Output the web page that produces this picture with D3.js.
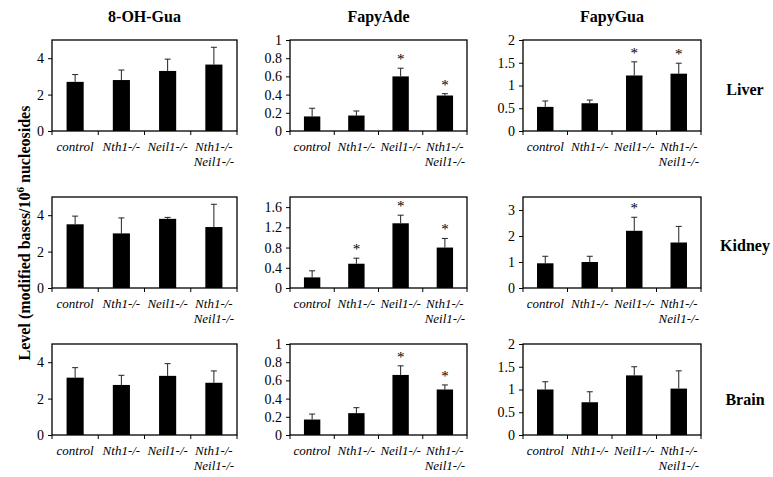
<!DOCTYPE html>
<html>
<head>
<meta charset="utf-8">
<script src="https://cdn.jsdelivr.net/npm/d3@7"></script>
<style>
  body { margin: 0; background: #fff; }
</style>
</head>
<body>
<div id="chart"></div>
<script>
// categories and panel names
let categories = ["control", "Nth1-/-", "Neil1-/-", "Nth1-/-\nNeil1-/-"];
let analytes = ["8-OH-Gua", "FapyAde", "FapyGua"];
let tissues = ["Liver", "Kidney", "Brain"];

// means (rows = tissue, cols = analyte)
let liverMeans  = [[2.7, 2.8, 3.3, 3.65], [0.16, 0.17, 0.60, 0.39], [0.53, 0.61, 1.22, 1.26]];
let kidneyMeans = [[3.5, 3.0, 3.8, 3.35], [0.21, 0.48, 1.28, 0.80], [0.95, 1.0, 2.2, 1.75]];
let brainMeans  = [[3.15, 2.75, 3.25, 2.87], [0.17, 0.24, 0.66, 0.50], [1.0, 0.72, 1.31, 1.02]];

// standard deviations (top of error bar minus mean)
let liverSD  = [[0.4, 0.55, 0.65, 0.95], [0.09, 0.05, 0.09, 0.02], [0.13, 0.07, 0.30, 0.23]];
let kidneySD = [[0.45, 0.85, 0.08, 1.25], [0.13, 0.11, 0.16, 0.18], [0.27, 0.22, 0.52, 0.62]];
let brainSD  = [[0.55, 0.53, 0.67, 0.65], [0.06, 0.06, 0.10, 0.05], [0.17, 0.23, 0.19, 0.39]];

// significance markers
let liverSig  = [[0, 0, 0, 0], [0, 0, 1, 1], [0, 0, 1, 1]];
let kidneySig = [[0, 0, 0, 0], [0, 1, 1, 1], [0, 0, 1, 0]];
let brainSig  = [[0, 0, 0, 0], [0, 0, 1, 1], [0, 0, 0, 0]];

// y axis maxima and ticks
let yMax = [[5, 1, 2], [5, 1.8, 3.5], [5, 1, 2]];
let yTicks = [
  [[0, 2, 4], [0, 0.2, 0.4, 0.6, 0.8, 1], [0, 0.5, 1, 1.5, 2]],
  [[0, 2, 4], [0, 0.4, 0.8, 1.2, 1.6], [0, 1, 2, 3]],
  [[0, 2, 4], [0, 0.2, 0.4, 0.6, 0.8, 1], [0, 0.5, 1, 1.5, 2]]
];

let means = [liverMeans, kidneyMeans, brainMeans];
let sds = [liverSD, kidneySD, brainSD];
let sigs = [liverSig, kidneySig, brainSig];

// layout
let width = 773;
let height = 477;
let colX = [52, 290, 523];
let colW = [185, 177, 178];
let rowY = [40, 197, 344];
let panelH = 91;
let serif = "'Liberation Serif', serif";

let svg = d3.select("#chart")
  .append("svg")
  .attr("width", width)
  .attr("height", height)
  .style("font-family", serif);

// column titles
analytes.forEach(function(name, c) {
  svg.append("text")
    .attr("x", colX[c] + colW[c] / 2)
    .attr("y", 22)
    .attr("text-anchor", "middle")
    .style("font-family", serif)
    .style("font-size", "16px")
    .style("font-weight", "bold")
    .text(name);
});

// row labels
let rowLabelY = [95, 251, 405];
tissues.forEach(function(name, r) {
  svg.append("text")
    .attr("x", 745)
    .attr("y", rowLabelY[r])
    .attr("text-anchor", "middle")
    .style("font-family", serif)
    .style("font-size", "16px")
    .style("font-weight", "bold")
    .text(name);
});

// y axis title
let ytitle = svg.append("text")
  .attr("transform", "translate(30,233) rotate(-90)")
  .attr("text-anchor", "middle")
  .style("font-family", serif)
  .style("font-size", "16px")
  .style("font-weight", "bold");
ytitle.append("tspan").text("Level (modified bases/10");
ytitle.append("tspan").attr("dy", -6).style("font-size", "11px").text("6");
ytitle.append("tspan").attr("dy", 6).text(" nucleosides");

for (let r = 0; r < 3; r++) {
  for (let c = 0; c < 3; c++) {
    let g = svg.append("g")
      .attr("transform", "translate(" + colX[c] + "," + rowY[r] + ")");

    let xScale = d3.scaleBand()
      .domain(categories)
      .range([0, colW[c]])
      .paddingInner(0.63)
      .paddingOuter(0.315);

    let yScale = d3.scaleLinear()
      .domain([0, yMax[r][c]])
      .range([panelH, 0]);

    let data = categories.map(function(cat, i) {
      return { cat: cat, m: means[r][c][i], sd: sds[r][c][i], sig: sigs[r][c][i] };
    });

    // frame
    g.append("rect")
      .attr("x", 0)
      .attr("y", 0)
      .attr("width", colW[c])
      .attr("height", panelH)
      .attr("fill", "none")
      .attr("stroke", "#000")
      .attr("stroke-width", 1.3);

    // error bars
    data.forEach(function(d) {
      let cx = xScale(d.cat) + xScale.bandwidth() / 2;
      g.append("line")
        .attr("x1", cx).attr("x2", cx)
        .attr("y1", yScale(d.m)).attr("y2", yScale(d.m + d.sd))
        .attr("stroke", "#222").attr("stroke-width", 1);
      g.append("line")
        .attr("x1", cx - 3).attr("x2", cx + 3)
        .attr("y1", yScale(d.m + d.sd)).attr("y2", yScale(d.m + d.sd))
        .attr("stroke", "#222").attr("stroke-width", 1);
      if (d.sig) {
        g.append("text")
          .attr("x", cx)
          .attr("y", yScale(d.m + d.sd) - 4)
          .attr("text-anchor", "middle")
          .style("font-family", serif)
          .style("font-size", "15px")
          .attr("fill", "#000")
          .text("*");
      }
    });

    // bars
    g.selectAll("rect.bar")
      .data(data)
      .enter()
      .append("rect")
      .attr("class", "bar")
      .attr("x", function(d) { return xScale(d.cat); })
      .attr("y", function(d) { return yScale(d.m); })
      .attr("width", xScale.bandwidth())
      .attr("height", function(d) { return panelH - yScale(d.m); })
      .attr("fill", "#000");

    // y axis
    let axisy = d3.axisLeft(yScale)
      .tickValues(yTicks[r][c])
      .tickSize(4)
      .tickPadding(4)
      .tickFormat(function(v) { return String(+v.toFixed(2)); });
    let ay = g.append("g").call(axisy);
    ay.select(".domain").remove();
    ay.selectAll("text")
      .style("font-family", serif)
      .style("font-size", "14px")
      .attr("fill", "#000");

    // x axis ticks at category boundaries
    let bounds = d3.range(5).map(function(i) { return i * colW[c] / 4; });
    g.selectAll("line.xt")
      .data(bounds)
      .enter()
      .append("line")
      .attr("x1", function(d) { return d; })
      .attr("x2", function(d) { return d; })
      .attr("y1", panelH)
      .attr("y2", panelH + 4)
      .attr("stroke", "#000");

    // category labels
    data.forEach(function(d) {
      let cx = xScale(d.cat) + xScale.bandwidth() / 2;
      let t = g.append("text")
        .attr("x", cx)
        .attr("y", panelH + 20)
        .attr("text-anchor", "middle")
        .style("font-family", serif)
        .style("font-size", "13px")
        .style("font-style", "italic");
      d.cat.split("\n").forEach(function(line, k) {
        t.append("tspan")
          .attr("x", cx)
          .attr("dy", k === 0 ? 0 : 15)
          .text(line);
      });
    });
  }
}
</script>
</body>
</html>
